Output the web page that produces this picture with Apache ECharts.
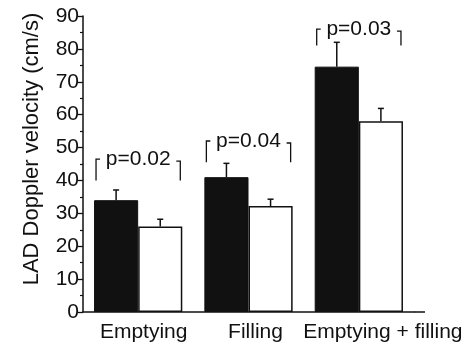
<!DOCTYPE html>
<html>
<head>
<meta charset="utf-8">
<script src="https://cdn.jsdelivr.net/npm/echarts@6/dist/echarts.min.js"></script>
<style>
  html, body { margin: 0; padding: 0; background: #fff; }
  #main { width: 470px; height: 345px; }
</style>
</head>
<body>
<div id="main"></div>
<script>
// data
var categories = ['Emptying', 'Filling', 'Emptying + filling'];
var blackValues = [34, 41, 74.6];
var blackErrors = [3.1, 4.2, 7.4];
var whiteValues = [26, 32.2, 58];
var whiteErrors = [2.2, 2.1, 3.9];
var pLabels = ['p=0.02', 'p=0.04', 'p=0.03'];
var bracketTop = [46.5, 52, 86];
var bracketBottom = [40, 45.5, 81];

var ink = '#111';
var font = '"Liberation Sans", Arial, sans-serif';
var labelShift = [11, 14, 48]; // left padding, px

var myChart = echarts.init(document.getElementById('main'));

function errorItem(params, api) {
  var i = api.value(0);
  var band = api.size([1, 0])[0];
  var barW = band * 0.8 / 2;
  var side = api.value(3);
  var base = api.coord([i, api.value(1)]);
  var top = api.coord([i, api.value(1) + api.value(2)]);
  var x = base[0] + side * barW / 2;
  return {
    type: 'group',
    children: [
      { type: 'line', shape: { x1: x, y1: base[1], x2: x, y2: top[1] }, style: { stroke: ink, lineWidth: 1.5 } },
      { type: 'line', shape: { x1: x - 3, y1: top[1], x2: x + 3, y2: top[1] }, style: { stroke: ink, lineWidth: 1.5 } }
    ]
  };
}

function bracketItem(params, api) {
  var i = api.value(0);
  var band = api.size([1, 0])[0];
  var half = band * 0.8 / 2 - 2;
  var t = api.coord([i, api.value(1)]);
  var b = api.coord([i, api.value(2)]);
  var xL = t[0] - half, xR = t[0] + half;
  var st = { stroke: ink, lineWidth: 1.3, fill: null };
  return {
    type: 'group',
    children: [
      { type: 'polyline', shape: { points: [[xL + 4, t[1]], [xL, t[1]], [xL, b[1]]] }, style: st },
      { type: 'polyline', shape: { points: [[xR - 4, t[1] + 2], [xR, t[1] + 2], [xR, b[1]]] }, style: st },
      { type: 'text', x: t[0], y: t[1], style: { text: pLabels[i], fill: ink, font: '21px ' + font, align: 'center', verticalAlign: 'middle' } }
    ]
  };
}

var errData = [];
var bracketData = [];
for (var i = 0; i < categories.length; i++) {
  errData.push([i, blackValues[i], blackErrors[i], -1]);
  errData.push([i, whiteValues[i], whiteErrors[i], 1]);
  bracketData.push([i, bracketTop[i], bracketBottom[i]]);
}

var option = {
  animation: false,
  backgroundColor: '#fff',
  grid: { left: 83, top: 16, width: 331, height: 296, outerBoundsMode: 'none' },
  xAxis: {
    type: 'category',
    data: categories.map(function (c, k) {
      return { value: c, textStyle: { padding: [0, 0, 0, labelShift[k]] } };
    }),
    axisLine: { lineStyle: { color: ink, width: 1.5 } },
    axisTick: { show: false },
    axisLabel: { color: ink, fontSize: 21, fontFamily: font, margin: 10, interval: 0 }
  },
  yAxis: {
    type: 'value',
    min: 0,
    max: 90,
    interval: 10,
    name: 'LAD Doppler velocity (cm/s)',
    nameLocation: 'middle',
    nameGap: 40,
    nameTextStyle: { color: ink, fontSize: 22, fontFamily: font, padding: [0, 0, 0, 30] },
    axisLine: { show: true, lineStyle: { color: ink, width: 1.5 } },
    axisTick: { show: true, length: 5, lineStyle: { color: ink, width: 1.3 } },
    minorTick: { show: true, splitNumber: 2, length: 3, lineStyle: { color: ink, width: 1.2 } },
    splitLine: { show: false },
    axisLabel: { color: ink, fontSize: 21, fontFamily: font, margin: 4 }
  },
  graphic: [
    { type: 'line', shape: { x1: 414, y1: 312, x2: 425, y2: 312 }, style: { stroke: ink, lineWidth: 1.5 } }
  ],
  series: [
    {
      type: 'bar',
      data: blackValues,
      barGap: '0%',
      barCategoryGap: '20%',
      itemStyle: { color: ink, borderColor: ink, borderWidth: 1 }
    },
    {
      type: 'bar',
      data: whiteValues,
      itemStyle: { color: '#fff', borderColor: ink, borderWidth: 1.5 }
    },
    { type: 'custom', renderItem: errorItem, data: errData, z: 5 },
    { type: 'custom', renderItem: bracketItem, data: bracketData, z: 5 }
  ]
};

myChart.setOption(option);
</script>
</body>
</html>
